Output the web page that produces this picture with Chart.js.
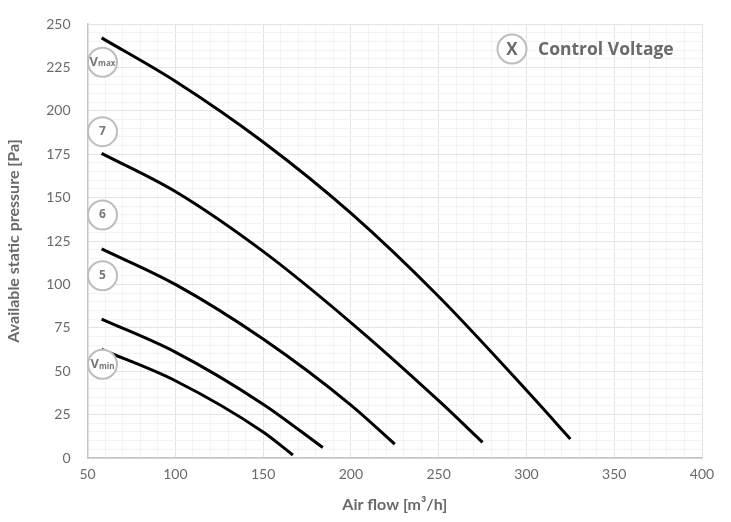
<!DOCTYPE html>
<html>
<head>
<meta charset="utf-8">
<script src="https://cdn.jsdelivr.net/npm/chart.js@4"></script>
<style>
  html, body { margin: 0; padding: 0; background: #fff; }
  #wrap { width: 731px; height: 522px; }
</style>
</head>
<body>
<div id="wrap"><canvas id="fan-chart" width="731" height="522"></canvas></div>
<script>
'use strict';

// curve data (airflow m3/h, pressure Pa)
const airflowVmax  = [58, 100, 150, 200, 250, 300, 325];
const pressureVmax = [242, 217, 182, 141, 93, 39, 11];
const airflow7     = [58, 100, 150, 200, 250, 275];
const pressure7    = [175.5, 153.5, 119, 78, 33, 9];
const airflow6     = [58, 100, 150, 200, 225];
const pressure6    = [120.5, 100, 68.5, 30.5, 8];
const airflow5     = [58, 100, 150, 184];
const pressure5    = [80, 61, 31, 6];
const airflowVmin  = [58, 100, 150, 167];
const pressureVmin = [62.5, 44.5, 15, 1.7];

// curve tags (main text, subscript) and the pressure they sit at
const curveTags   = [['V', 'max'], ['7', ''], ['6', ''], ['5', ''], ['V', 'min']];
const tagPressure = [228, 188, 140, 105, 54];
const tagAirflow  = 58.5;

const FONT = "Lato, 'Open Sans', sans-serif";
const KEY_FONT = "'Open Sans', Lato, sans-serif";
const GREY = '#6a6a6a';

function toPoints(xs, ys) { return xs.map((x, i) => ({ x, y: ys[i] })); }

function curve(xs, ys) {
  return {
    data: toPoints(xs, ys),
    borderColor: '#000',
    borderWidth: 3,
    pointRadius: 0,
    cubicInterpolationMode: 'monotone',
    fill: false
  };
}

// circles with the voltage tags + the "Control Voltage" key
const TagPlugin = {
  id: 'tags',
  afterDatasetsDraw(chart) {
    const { ctx, scales, chartArea } = chart;
    const drawCircle = (cx, cy) => {
      ctx.beginPath();
      ctx.arc(cx, cy, 14.5, 0, Math.PI * 2);
      ctx.fillStyle = '#fff';
      ctx.fill();
      ctx.lineWidth = 2;
      ctx.strokeStyle = '#bdbdbd';
      ctx.stroke();
    };
    ctx.save();
    ctx.textBaseline = 'middle';
    curveTags.forEach(([main, sub], i) => {
      const cx = scales.x.getPixelForValue(tagAirflow);
      const cy = scales.y.getPixelForValue(tagPressure[i]);
      drawCircle(cx, cy);
      ctx.fillStyle = '#777';
      if (sub) {
        ctx.font = `700 13px ${KEY_FONT}`;
        const w1 = ctx.measureText(main).width;
        ctx.font = `700 8px ${KEY_FONT}`;
        const w2 = ctx.measureText(sub).width;
        const x0 = cx - (w1 + w2) / 2;
        ctx.textAlign = 'left';
        ctx.font = `700 13px ${KEY_FONT}`;
        ctx.fillText(main, x0, cy);
        ctx.font = `700 8px ${KEY_FONT}`;
        ctx.fillText(sub, x0 + w1, cy + 2);
      } else {
        ctx.textAlign = 'center';
        ctx.font = `700 12px ${KEY_FONT}`;
        ctx.fillText(main, cx, cy);
      }
    });
    // key in the top right corner
    const kx = chartArea.right - 190, ky = chartArea.top + 25;
    drawCircle(kx, ky);
    ctx.fillStyle = GREY;
    ctx.textAlign = 'center';
    ctx.font = `700 17px ${KEY_FONT}`;
    ctx.fillText('X', kx, ky + 1);
    ctx.textAlign = 'left';
    ctx.font = `700 17.5px ${KEY_FONT}`;
    ctx.fillText('Control Voltage', kx + 26, ky + 1);
    ctx.restore();
  }
};

const ctx = document.getElementById('fan-chart').getContext('2d');
new Chart(ctx, {
  type: 'line',
  data: {
    datasets: [
      curve(airflowVmax, pressureVmax),
      curve(airflow7, pressure7),
      curve(airflow6, pressure6),
      curve(airflow5, pressure5),
      curve(airflowVmin, pressureVmin)
    ]
  },
  options: {
    responsive: false,
    animation: false,
    layout: { padding: { left: 4, right: 29, top: 4, bottom: 8 } },
    plugins: { legend: { display: false }, tooltip: { enabled: false } },
    scales: {
      x: {
        type: 'linear',
        min: 50,
        max: 400,
        ticks: {
          stepSize: 10,
          autoSkip: false,
          maxRotation: 0,
          padding: 8,
          color: GREY,
          font: { family: FONT, size: 14 },
          callback: (v) => (v % 50 === 0 ? String(v) : '')
        },
        grid: {
          drawTicks: false,
          lineWidth: 1,
          color: (c) => (c.tick && c.tick.value % 50 === 0 ? '#e4e4e4' : '#f3f3f3')
        },
        border: { color: '#c4c4c4', width: 1.5 },
        title: {
          display: true,
          text: 'Air flow [m³/h]',
          color: GREY,
          font: { family: FONT, size: 16, weight: '700' },
          padding: { top: 4, bottom: 0 }
        }
      },
      y: {
        min: 0,
        max: 250,
        ticks: {
          stepSize: 5,
          autoSkip: false,
          padding: 17,
          color: GREY,
          font: { family: FONT, size: 14, lineHeight: 1 },
          callback: (v) => (v % 25 === 0 ? String(v) : '')
        },
        grid: {
          drawTicks: false,
          lineWidth: 1,
          color: (c) => (c.tick && c.tick.value % 25 === 0 ? '#e4e4e4' : '#f3f3f3')
        },
        border: { color: '#c4c4c4', width: 1.5 },
        title: {
          display: true,
          text: 'Available static pressure [Pa]',
          color: GREY,
          font: { family: FONT, size: 16, weight: '700' },
          padding: { top: 0, bottom: 6 }
        }
      }
    }
  },
  plugins: [TagPlugin]
});
</script>
</body>
</html>
